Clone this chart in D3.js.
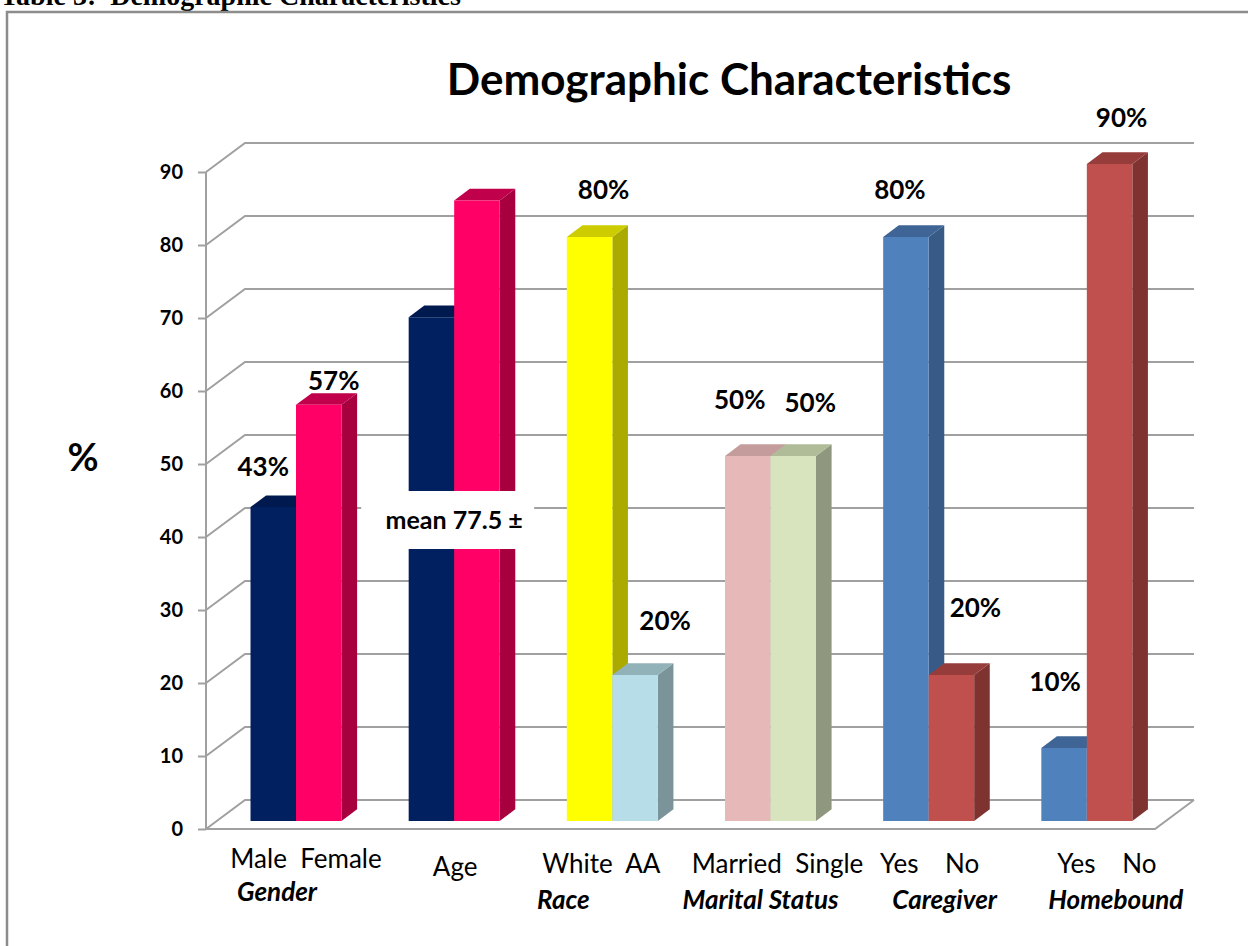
<!DOCTYPE html>
<html>
<head>
<meta charset="utf-8">
<script src="https://cdn.jsdelivr.net/npm/d3@7"></script>
<style>
  body { margin: 0; background: #fff; }
  text { white-space: pre; }
</style>
</head>
<body>
<div id="chart"></div>
<script>
// data
var groups = ["Gender", "Age", "Race", "Marital Status", "Caregiver", "Homebound"];
var subLabels = ["Male  Female", "Age", "White  AA", "Married  Single", "Yes    No", "Yes    No"];
var firstValues = [43, 69, 80, 50, 80, 10];
var secondValues = [57, 85, 20, 50, 20, 90];
var firstLabels = ["43%", "", "80%", "50%", "80%", "10%"];
var secondLabels = ["57%", "", "20%", "50%", "20%", "90%"];
var yTicks = [0, 10, 20, 30, 40, 50, 60, 70, 80, 90];

// colours: [front, side, top]
var firstColors = [
  ["#002060", "#001845", "#001a4f"],
  ["#002060", "#001845", "#001a4f"],
  ["#ffff00", "#aaaa00", "#cccc00"],
  ["#e6b9b8", "#9a7b7b", "#c49c9b"],
  ["#4f81bd", "#375b86", "#3e6596"],
  ["#4f81bd", "#375b86", "#3e6596"]
];
var secondColors = [
  ["#ff0066", "#a8003f", "#c0004a"],
  ["#ff0066", "#a8003f", "#c0004a"],
  ["#b7dee8", "#7a9499", "#92b2ba"],
  ["#d7e4bd", "#8f987e", "#b0bc98"],
  ["#c0504d", "#7f3331", "#963c3a"],
  ["#c0504d", "#7f3331", "#963c3a"]
];

// label nudges (layout only)
var firstNudge = [[-10, -40], [0, 0], [14, -47], [-8, -56], [-6, -47], [-9, -66]];
var secondNudge = [[15, -24], [0, 0], [30, -54], [17, -53], [24, -67], [12, -46]];
var row1Nudge = [10, 1, -11, 7, 1, 20];
var row2Nudge = [-19, -49, -10, 16, 29];

var width = 1248, height = 946;
var svg = d3.select("#chart").append("svg")
    .attr("width", width)
    .attr("height", height)
    .style("font-family", "Lato, 'Open Sans', sans-serif");

svg.append("rect").attr("width", width).attr("height", height).attr("fill", "#fff");

// page heading (cut off at top)
svg.append("text")
    .attr("x", 0).attr("y", 5)
    .style("font-family", "'Liberation Serif', serif")
    .style("font-weight", "bold")
    .style("font-size", "28px")
    .text("Table 3:  Demographic Characteristics");

// frame
svg.append("path")
    .attr("d", "M7,946 L7,12 L1248,12")
    .attr("fill", "none")
    .attr("stroke", "#8c8c8c")
    .attr("stroke-width", 2.5);

// 3d geometry
var x0 = 206, x1 = 1155;
var depthX = 39, depthY = -29;
var y = d3.scaleLinear().domain([0, 90]).range([829, 172]);

var xBand = d3.scaleBand().domain(groups).range([x0, x1])
    .paddingInner(0.4247).paddingOuter(0.2124);
var xSub = d3.scaleBand().domain([0, 1]).range([0, xBand.bandwidth()]);

var barT0 = 0.28, barT1 = 0.68; // bar front / back depth fraction

var gridColor = "#a0a0a0";
var grid = svg.append("g");

// back gridlines with wall diagonals
grid.selectAll(".gl").data(yTicks).enter().append("path")
    .attr("fill", "none")
    .attr("stroke", gridColor)
    .attr("stroke-width", 2)
    .attr("d", function(d) {
      return "M" + x0 + "," + y(d) + "L" + (x0 + depthX) + "," + (y(d) + depthY) +
             "L" + (x1 + depthX) + "," + (y(d) + depthY);
    });

// floor
grid.append("path")
    .attr("fill", "none")
    .attr("stroke", gridColor)
    .attr("stroke-width", 2)
    .attr("d", "M" + x0 + "," + y(0) + "L" + x1 + "," + y(0) + "L" + (x1 + depthX) + "," + (y(0) + depthY));

// axis
var axis = d3.axisLeft(y).tickValues(yTicks).tickSize(8).tickPadding(15);
var ag = svg.append("g").attr("transform", "translate(" + x0 + ",0)").call(axis);
ag.select(".domain").attr("stroke", gridColor).attr("stroke-width", 2).attr("d", "M0," + y(90) + "V" + y(0));
ag.selectAll(".tick line").attr("stroke", gridColor).attr("stroke-width", 2);
ag.selectAll(".tick text")
    .style("font-family", "Lato, sans-serif")
    .style("font-weight", "bold")
    .style("font-size", "20px")
    .attr("fill", "#000");

// bars
function barPoly(xl, w, v) {
  var fx = xl + depthX * barT0, fy0 = y(0) + depthY * barT0;
  var bx = xl + depthX * barT1, by0 = y(0) + depthY * barT1;
  var h = y(0) - y(v);
  var ft = fy0 - h, bt = by0 - h;
  return {
    front: [[fx, fy0], [fx + w, fy0], [fx + w, ft], [fx, ft]],
    side: [[fx + w, fy0], [bx + w, by0], [bx + w, bt], [fx + w, ft]],
    top: [[fx, ft], [fx + w, ft], [bx + w, bt], [bx, bt]],
    cx: fx + w / 2, ty: ft
  };
}
function pts(p) { return p.map(function(q) { return q.join(","); }).join(" "); }

var bars = [];
groups.forEach(function(g, i) {
  bars.push({ x: xBand(g) + xSub(0), v: firstValues[i], c: firstColors[i], label: firstLabels[i], n: firstNudge[i] });
  bars.push({ x: xBand(g) + xSub(1), v: secondValues[i], c: secondColors[i], label: secondLabels[i], n: secondNudge[i] });
});

var bg = svg.append("g");
bars.forEach(function(b) {
  var p = barPoly(b.x, xSub.bandwidth(), b.v);
  var g = bg.append("g");
  g.append("polygon").attr("points", pts(p.side)).attr("fill", b.c[1]);
  g.append("polygon").attr("points", pts(p.top)).attr("fill", b.c[2]);
  g.append("polygon").attr("points", pts(p.front)).attr("fill", b.c[0]);
  b.cx = p.cx; b.ty = p.ty;
});

// data labels
svg.append("g").selectAll("text").data(bars.filter(function(b) { return b.label; }))
  .enter().append("text")
    .attr("x", function(b) { return b.cx + b.n[0]; })
    .attr("y", function(b) { return b.ty + b.n[1] + 9; })
    .attr("text-anchor", "middle")
    .style("font-weight", "bold")
    .style("font-size", "26px")
    .text(function(b) { return b.label; });

// age label box
var ageX = xBand("Age") + xBand.bandwidth() / 2 + depthX * barT0;
svg.append("rect")
    .attr("x", ageX - 93).attr("y", 491)
    .attr("width", 173).attr("height", 58)
    .attr("fill", "#fff");
svg.append("text")
    .attr("x", ageX).attr("y", 529)
    .attr("text-anchor", "middle")
    .style("font-weight", "bold")
    .style("font-size", "25px")
    .text("mean 77.5 \u00b1");

// y axis title
svg.append("text")
    .attr("x", 83).attr("y", 471)
    .attr("text-anchor", "middle")
    .style("font-weight", "bold")
    .style("font-size", "38px")
    .text("%");

// chart title
svg.append("text")
    .attr("x", 729).attr("y", 95)
    .attr("text-anchor", "middle")
    .style("font-weight", "bold")
    .style("font-size", "44px")
    .text("Demographic Characteristics");

// category labels
var cg = svg.append("g");
groups.forEach(function(g, i) {
  var cx = xBand(g) + xBand.bandwidth() / 2 + depthX * barT0;
  cg.append("text")
      .attr("x", cx + row1Nudge[i])
      .attr("y", i === 0 ? 868 : (i === 1 ? 876 : 873))
      .attr("text-anchor", "middle")
      .style("font-size", "26px")
      .text(subLabels[i]);
});
var namedGroups = groups.filter(function(g) { return g !== "Age"; });
namedGroups.forEach(function(g, i) {
  var cx = xBand(g) + xBand.bandwidth() / 2 + depthX * barT0;
  cg.append("text")
      .attr("x", cx + row2Nudge[i])
      .attr("y", i === 0 ? 901 : 909)
      .attr("text-anchor", "middle")
      .style("font-weight", "bold")
      .style("font-style", "italic")
      .style("font-size", "26px")
      .text(g);
});
</script>
</body>
</html>
